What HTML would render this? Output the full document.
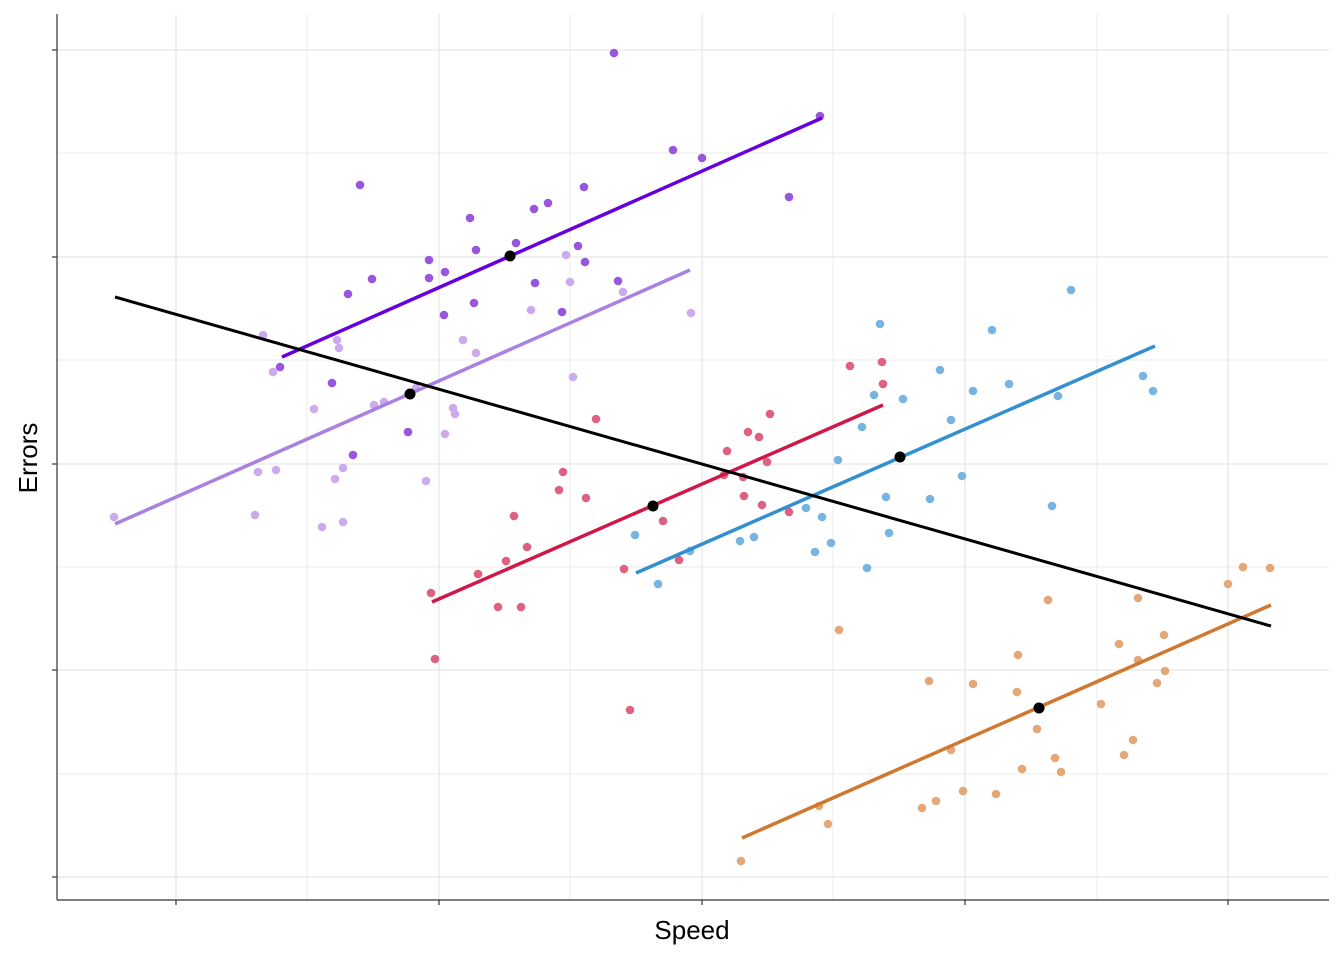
<!DOCTYPE html>
<html><head><meta charset="utf-8"><style>html,body{margin:0;padding:0;background:#fff}svg{display:block}</style></head>
<body>
<svg width="1344" height="960" xmlns="http://www.w3.org/2000/svg" font-family="Liberation Sans, sans-serif">
<rect width="1344" height="960" fill="#fff"/>
<g stroke="#ebebeb" stroke-width="1">
<line x1="307" y1="14" x2="307" y2="900"/><line x1="570" y1="14" x2="570" y2="900"/><line x1="833" y1="14" x2="833" y2="900"/><line x1="1097" y1="14" x2="1097" y2="900"/>
<line x1="57" y1="153" x2="1329" y2="153"/><line x1="57" y1="360" x2="1329" y2="360"/><line x1="57" y1="567" x2="1329" y2="567"/><line x1="57" y1="774" x2="1329" y2="774"/>
</g>
<g stroke="#e6e6e6" stroke-width="1.3">
<line x1="176" y1="14" x2="176" y2="900"/><line x1="439" y1="14" x2="439" y2="900"/><line x1="702" y1="14" x2="702" y2="900"/><line x1="965" y1="14" x2="965" y2="900"/><line x1="1228" y1="14" x2="1228" y2="900"/>
<line x1="57" y1="50" x2="1329" y2="50"/><line x1="57" y1="257" x2="1329" y2="257"/><line x1="57" y1="464" x2="1329" y2="464"/><line x1="57" y1="670" x2="1329" y2="670"/><line x1="57" y1="877" x2="1329" y2="877"/>
</g>
<g stroke="#333" stroke-width="1.2">
<line x1="57" y1="14" x2="57" y2="900"/><line x1="57" y1="900" x2="1329" y2="900"/>
<line x1="52" y1="50" x2="57" y2="50"/><line x1="52" y1="257" x2="57" y2="257"/><line x1="52" y1="464" x2="57" y2="464"/><line x1="52" y1="670" x2="57" y2="670"/><line x1="52" y1="877" x2="57" y2="877"/>
<line x1="176" y1="900" x2="176" y2="905"/><line x1="439" y1="900" x2="439" y2="905"/><line x1="702" y1="900" x2="702" y2="905"/><line x1="965" y1="900" x2="965" y2="905"/><line x1="1228" y1="900" x2="1228" y2="905"/>
</g>
<g fill="#9955dd">
<circle cx="614" cy="53" r="4.3"/><circle cx="820" cy="116" r="4.3"/><circle cx="673" cy="150" r="4.3"/><circle cx="702" cy="158" r="4.3"/><circle cx="789" cy="197" r="4.3"/><circle cx="360" cy="185" r="4.3"/><circle cx="584" cy="187" r="4.3"/><circle cx="548" cy="203" r="4.3"/><circle cx="534" cy="209" r="4.3"/><circle cx="470" cy="218" r="4.3"/><circle cx="516" cy="243" r="4.3"/><circle cx="578" cy="246" r="4.3"/><circle cx="476" cy="250" r="4.3"/><circle cx="429" cy="260" r="4.3"/><circle cx="585" cy="262" r="4.3"/><circle cx="445" cy="272" r="4.3"/><circle cx="429" cy="278" r="4.3"/><circle cx="372" cy="279" r="4.3"/><circle cx="618" cy="281" r="4.3"/><circle cx="535" cy="283" r="4.3"/><circle cx="348" cy="294" r="4.3"/><circle cx="474" cy="303" r="4.3"/><circle cx="444" cy="315" r="4.3"/><circle cx="562" cy="312" r="4.3"/><circle cx="332" cy="383" r="4.3"/><circle cx="408" cy="432" r="4.3"/><circle cx="353" cy="455" r="4.3"/><circle cx="280" cy="367" r="4.3"/>
</g>
<g fill="#ccaaee">
<circle cx="566" cy="255" r="4.3"/><circle cx="570" cy="282" r="4.3"/><circle cx="623" cy="292" r="4.3"/><circle cx="691" cy="313" r="4.3"/><circle cx="531" cy="310" r="4.3"/><circle cx="263" cy="335" r="4.3"/><circle cx="337" cy="340" r="4.3"/><circle cx="339" cy="348" r="4.3"/><circle cx="463" cy="340" r="4.3"/><circle cx="476" cy="353" r="4.3"/><circle cx="573" cy="377" r="4.3"/><circle cx="273" cy="372" r="4.3"/><circle cx="374" cy="405" r="4.3"/><circle cx="384" cy="402" r="4.3"/><circle cx="314" cy="409" r="4.3"/><circle cx="453" cy="408" r="4.3"/><circle cx="455" cy="414" r="4.3"/><circle cx="445" cy="434" r="4.3"/><circle cx="258" cy="472" r="4.3"/><circle cx="276" cy="470" r="4.3"/><circle cx="343" cy="468" r="4.3"/><circle cx="335" cy="479" r="4.3"/><circle cx="426" cy="481" r="4.3"/><circle cx="255" cy="515" r="4.3"/><circle cx="322" cy="527" r="4.3"/><circle cx="343" cy="522" r="4.3"/><circle cx="114" cy="517" r="4.3"/><circle cx="416" cy="388" r="4.3"/>
</g>
<g fill="#e06080">
<circle cx="850" cy="366" r="4.3"/><circle cx="882" cy="362" r="4.3"/><circle cx="596" cy="419" r="4.3"/><circle cx="770" cy="414" r="4.3"/><circle cx="748" cy="432" r="4.3"/><circle cx="759" cy="437" r="4.3"/><circle cx="563" cy="472" r="4.3"/><circle cx="727" cy="451" r="4.3"/><circle cx="767" cy="462" r="4.3"/><circle cx="743" cy="477" r="4.3"/><circle cx="724" cy="475" r="4.3"/><circle cx="559" cy="490" r="4.3"/><circle cx="586" cy="498" r="4.3"/><circle cx="744" cy="496" r="4.3"/><circle cx="762" cy="505" r="4.3"/><circle cx="789" cy="512" r="4.3"/><circle cx="663" cy="521" r="4.3"/><circle cx="514" cy="516" r="4.3"/><circle cx="527" cy="547" r="4.3"/><circle cx="506" cy="561" r="4.3"/><circle cx="478" cy="574" r="4.3"/><circle cx="624" cy="569" r="4.3"/><circle cx="679" cy="560" r="4.3"/><circle cx="431" cy="593" r="4.3"/><circle cx="498" cy="607" r="4.3"/><circle cx="521" cy="607" r="4.3"/><circle cx="435" cy="659" r="4.3"/><circle cx="630" cy="710" r="4.3"/><circle cx="883" cy="384" r="4.3"/>
</g>
<g fill="#78b4e2">
<circle cx="1071" cy="290" r="4.3"/><circle cx="880" cy="324" r="4.3"/><circle cx="992" cy="330" r="4.3"/><circle cx="940" cy="370" r="4.3"/><circle cx="1143" cy="376" r="4.3"/><circle cx="973" cy="391" r="4.3"/><circle cx="1009" cy="384" r="4.3"/><circle cx="1153" cy="391" r="4.3"/><circle cx="1058" cy="396" r="4.3"/><circle cx="874" cy="395" r="4.3"/><circle cx="903" cy="399" r="4.3"/><circle cx="951" cy="420" r="4.3"/><circle cx="862" cy="427" r="4.3"/><circle cx="838" cy="460" r="4.3"/><circle cx="962" cy="476" r="4.3"/><circle cx="886" cy="497" r="4.3"/><circle cx="930" cy="499" r="4.3"/><circle cx="1052" cy="506" r="4.3"/><circle cx="806" cy="508" r="4.3"/><circle cx="822" cy="517" r="4.3"/><circle cx="635" cy="535" r="4.3"/><circle cx="889" cy="533" r="4.3"/><circle cx="754" cy="537" r="4.3"/><circle cx="740" cy="541" r="4.3"/><circle cx="831" cy="543" r="4.3"/><circle cx="690" cy="551" r="4.3"/><circle cx="815" cy="552" r="4.3"/><circle cx="867" cy="568" r="4.3"/><circle cx="658" cy="584" r="4.3"/>
</g>
<g fill="#e4a878">
<circle cx="1243" cy="567" r="4.3"/><circle cx="1270" cy="568" r="4.3"/><circle cx="1228" cy="584" r="4.3"/><circle cx="1138" cy="598" r="4.3"/><circle cx="1048" cy="600" r="4.3"/><circle cx="839" cy="630" r="4.3"/><circle cx="1119" cy="644" r="4.3"/><circle cx="1164" cy="635" r="4.3"/><circle cx="1018" cy="655" r="4.3"/><circle cx="1138" cy="660" r="4.3"/><circle cx="1165" cy="671" r="4.3"/><circle cx="929" cy="681" r="4.3"/><circle cx="973" cy="684" r="4.3"/><circle cx="1017" cy="692" r="4.3"/><circle cx="1157" cy="683" r="4.3"/><circle cx="1101" cy="704" r="4.3"/><circle cx="1037" cy="729" r="4.3"/><circle cx="1133" cy="740" r="4.3"/><circle cx="951" cy="750" r="4.3"/><circle cx="1124" cy="755" r="4.3"/><circle cx="1055" cy="758" r="4.3"/><circle cx="1022" cy="769" r="4.3"/><circle cx="1061" cy="772" r="4.3"/><circle cx="963" cy="791" r="4.3"/><circle cx="996" cy="794" r="4.3"/><circle cx="936" cy="801" r="4.3"/><circle cx="922" cy="808" r="4.3"/><circle cx="819" cy="806" r="4.3"/><circle cx="828" cy="824" r="4.3"/><circle cx="741" cy="861" r="4.3"/>
</g>
<g stroke-width="3.5">
<line x1="282" y1="357" x2="822" y2="118" stroke="#6600dd"/>
<line x1="115" y1="524" x2="690" y2="270" stroke="#aa80e0"/>
<line x1="432" y1="602" x2="883" y2="405" stroke="#d01848"/>
<line x1="636" y1="573" x2="1155" y2="346" stroke="#3390d0"/>
<line x1="742" y1="838" x2="1271" y2="605" stroke="#d07830"/>
<line x1="115" y1="297" x2="1271" y2="626" stroke="#000" stroke-width="3"/>
</g>
<g fill="#000"><circle cx="510" cy="256" r="5.5"/><circle cx="410" cy="394" r="5.5"/><circle cx="653" cy="506" r="5.5"/><circle cx="900" cy="457" r="5.5"/><circle cx="1039" cy="708" r="5.5"/></g>
<text x="692" y="939" font-size="26" text-anchor="middle">Speed</text>
<text transform="translate(37,458) rotate(-90)" font-size="26" text-anchor="middle">Errors</text>
</svg>
</body></html>
